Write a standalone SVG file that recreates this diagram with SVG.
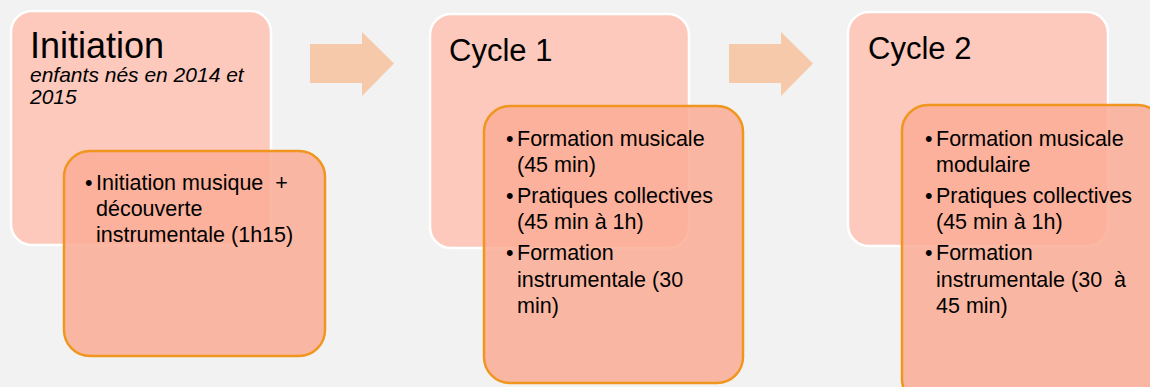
<svg xmlns="http://www.w3.org/2000/svg" width="1150" height="387" viewBox="0 0 1150 387">
<style>
.outer{fill:#fcc9bc;stroke:#ffffff;stroke-width:2.5}
.inner{fill:rgb(250,173,149);fill-opacity:0.85;stroke:#f0961e;stroke-width:2.5}
.arrow{fill:#f6c9aa}
text{font-family:"Liberation Sans",Arial,sans-serif;fill:#000}
.t1{font-size:36px}
.t2{font-size:31px}
.sub{font-size:21px;font-style:italic}
.b{font-size:21.5px}
</style>
<rect width="1150" height="387" fill="#f2f2f2"/>
<g id="connectors">
<polygon class="arrow" points="310,44 362,44 362,32 394,63.5 362,96 362,83 310,83"/>
<polygon class="arrow" points="729,44 781,44 781,32 813,63.5 781,96 781,83 729,83"/>
</g>
<g id="initiation">
<rect class="outer" x="11" y="11" width="260" height="234" rx="21"/>
<text class="t1" x="30" y="58">Initiation</text>
<text class="sub" x="30" y="82">enfants nés en 2014 et</text>
<text class="sub" x="30" y="104">2015</text>
</g>
<g id="initiation-detail">
<rect class="inner" x="64" y="151" width="261" height="205" rx="26"/>
<text class="b" x="85" y="190">•</text>
<text class="b" x="96" y="190" xml:space="preserve">Initiation musique  +</text>
<text class="b" x="96" y="216">découverte</text>
<text class="b" x="96" y="242">instrumentale (1h15)</text>
</g>
<g id="cycle1">
<rect class="outer" x="430" y="14" width="259" height="234" rx="21"/>
<text class="t2" x="449" y="61">Cycle 1</text>
</g>
<g id="cycle1-detail">
<rect class="inner" x="484" y="106" width="259" height="277" rx="26"/>
<text class="b" x="506" y="146">•</text>
<text class="b" x="517" y="146">Formation musicale</text>
<text class="b" x="517" y="172">(45 min)</text>
<text class="b" x="506" y="203">•</text>
<text class="b" x="517" y="203">Pratiques collectives</text>
<text class="b" x="517" y="229">(45 min à 1h)</text>
<text class="b" x="506" y="260">•</text>
<text class="b" x="517" y="260">Formation</text>
<text class="b" x="517" y="287">instrumentale (30</text>
<text class="b" x="517" y="313">min)</text>
</g>
<g id="cycle2">
<rect class="outer" x="848" y="12" width="260" height="234" rx="21"/>
<text class="t2" x="868" y="59">Cycle 2</text>
</g>
<g id="cycle2-detail">
<rect class="inner" x="902" y="105" width="262" height="300" rx="26"/>
<text class="b" x="925" y="146">•</text>
<text class="b" x="936" y="146">Formation musicale</text>
<text class="b" x="936" y="172">modulaire</text>
<text class="b" x="925" y="203">•</text>
<text class="b" x="936" y="203">Pratiques collectives</text>
<text class="b" x="936" y="229">(45 min à 1h)</text>
<text class="b" x="925" y="260">•</text>
<text class="b" x="936" y="260">Formation</text>
<text class="b" x="936" y="287" xml:space="preserve">instrumentale (30  à</text>
<text class="b" x="936" y="313">45 min)</text>
</g>
</svg>
